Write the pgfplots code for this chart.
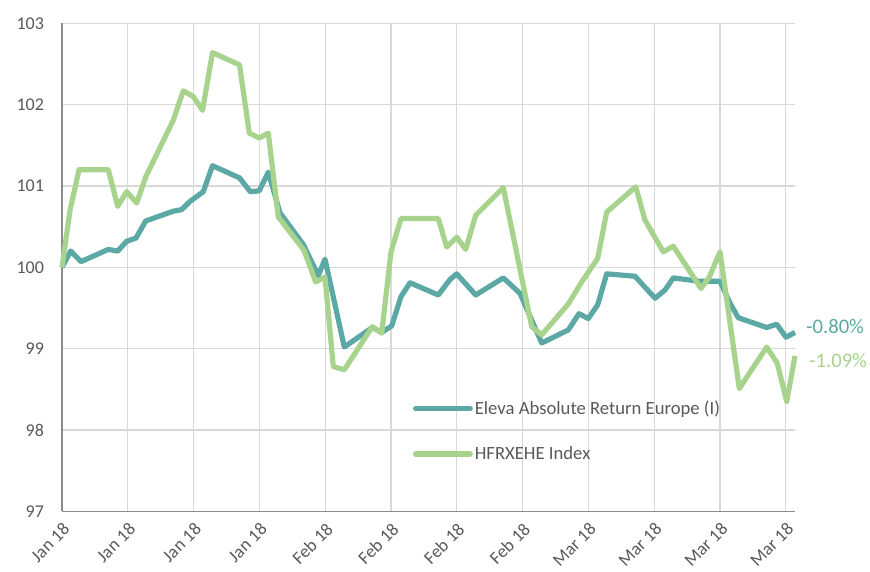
\documentclass[border=0pt]{standalone}
\usepackage{pgfplots}
\pgfplotsset{compat=1.18}
\usepackage{fontspec}
\setmainfont{Carlito}
\definecolor{teal1}{HTML}{5BA8A4}
\definecolor{green1}{HTML}{A8D38D}
\definecolor{txt}{HTML}{595959}
\definecolor{gridc}{HTML}{D9D9D9}
\begin{document}
\begin{tikzpicture}
\begin{axis}[
  scale only axis,
  width=549.75pt, height=366pt,
  xmin=62, xmax=795, ymin=97, ymax=103,
  axis x line=bottom, axis y line=left,
  axis line style={draw=black!45, line width=1pt, -},
  xtick={62,127.8,193.6,259.4,325.2,391,456.8,522.6,588.4,654.2,720,785.8},
  xticklabels={Jan 18,Jan 18,Jan 18,Jan 18,Feb 18,Feb 18,Feb 18,Feb 18,Mar 18,Mar 18,Mar 18,Mar 18},
  ytick={97,98,99,100,101,102,103},
  major tick length=0pt,
  grid=major,
  major grid style={draw=gridc, line width=1pt},
  /pgf/number format/assume math mode=true,
  every tick label/.append style={font=\fontsize{13.5}{15}\selectfont, text=txt},
  yticklabel style={xshift=-10pt},
  xticklabel style={rotate=45, anchor=north east, xshift=-2pt, yshift=-2pt},
  clip=false,
  legend style={draw=none, fill=none, at={(0.473,0.238)}, anchor=north west,
    font=\fontsize{14}{16}\selectfont, text=txt, row sep=18.5pt,
    legend cell align=left, nodes={inner xsep=1.5pt}},
  legend image code/.code={\draw[#1, line cap=round] (0pt,0pt) -- (41pt,0pt);},
]
\addplot[teal1, line width=3.9pt, line join=round] coordinates {
(62,100.00) (70.7,100.20) (81,100.07) (108.3,100.22) (117.7,100.20) (126.7,100.32)
(136,100.36) (145.7,100.57) (173.3,100.69) (181.7,100.71) (190,100.81) (203.3,100.93)
(212.5,101.25) (239.5,101.10) (250.3,100.93) (259.2,100.94) (268.3,101.17) (280,100.67)
(303.3,100.28) (318.3,99.90) (325,100.10) (344.3,99.02) (372.3,99.26) (381.7,99.20)
(391.7,99.28) (401,99.64) (410,99.81) (438.3,99.66) (450,99.85) (456.7,99.92)
(475.7,99.66) (503.3,99.87) (520,99.68) (541.7,99.07) (568.3,99.23) (579,99.43)
(588.3,99.37) (597.7,99.54) (606.7,99.92) (635,99.89) (655,99.62) (665,99.72)
(673.3,99.87) (698.3,99.83) (720,99.83) (730,99.56) (738.3,99.38) (766.7,99.26)
(776.7,99.30) (786,99.14) (795,99.20)
};
\addlegendentry{Eleva Absolute Return Europe (I)}
\addplot[green1, line width=3.9pt, line join=round] coordinates {
(62,100.00) (70,100.70) (79,101.20) (108.3,101.20) (117.7,100.75) (126.7,100.93)
(136.7,100.79) (145.7,101.11) (173.3,101.81) (183.3,102.17) (193.3,102.10) (202.5,101.93)
(212.5,102.64) (239.5,102.49) (249.3,101.65) (259.3,101.59) (268.3,101.65) (278.3,100.62)
(304,100.21) (315.7,99.82) (325,99.88) (333.3,98.78) (344.3,98.74) (372.3,99.27)
(381.7,99.19) (391,100.19) (401,100.60) (438.3,100.60) (446.7,100.25) (456.7,100.37)
(465.7,100.22) (475.7,100.64) (503.3,100.98) (531.7,99.27) (541.7,99.17) (568.3,99.55)
(581.7,99.82) (597.7,100.11) (606.7,100.68) (635.7,100.99) (645,100.58) (663.3,100.19)
(673.3,100.26) (701,99.74) (709.3,99.88) (720,100.19) (739.3,98.51) (766.7,99.02)
(777.3,98.82) (786.7,98.35) (795,98.91)
};
\addlegendentry{HFRXEHE Index}
\node[anchor=west, text=teal1, font=\fontsize{15.5}{17}\selectfont, inner sep=0pt] at (axis cs:806,99.27) {-0.80\%};
\node[anchor=west, text=green1, font=\fontsize{15.5}{17}\selectfont, inner sep=0pt] at (axis cs:809,98.86) {-1.09\%};
\coordinate (SW) at (rel axis cs:0,0);
\coordinate (NE) at (rel axis cs:1,1);
\end{axis}
\pgfresetboundingbox
\path[use as bounding box] ([shift={(-46.5pt,-45pt)}]SW) rectangle ([shift={(56.25pt,17.5pt)}]NE);
\end{tikzpicture}
\end{document}
